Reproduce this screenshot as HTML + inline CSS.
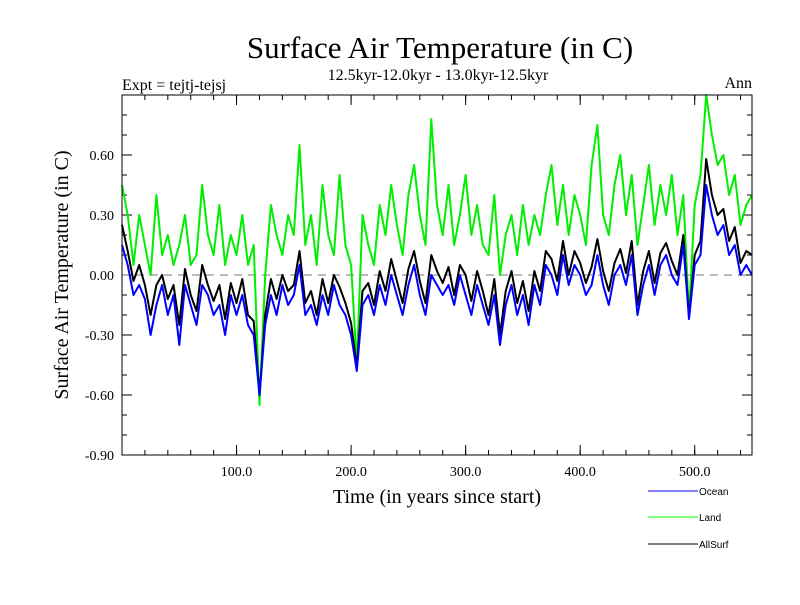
<!DOCTYPE html>
<html><head><meta charset="utf-8"><style>
body{margin:0;background:#fff}
svg text{font-family:"Liberation Serif",serif}
</style></head><body>
<svg id="chart" width="800" height="600" xmlns="http://www.w3.org/2000/svg">
<text x="440" y="58" font-size="31" text-anchor="middle">Surface Air Temperature (in C)</text>
<text x="438" y="80" font-size="16" text-anchor="middle">12.5kyr-12.0kyr - 13.0kyr-12.5kyr</text>
<text x="122" y="90" font-size="16">Expt = tejtj-tejsj</text>
<text x="752" y="88" font-size="16" text-anchor="end">Ann</text>
<text transform="translate(68,275) rotate(-90)" font-size="20" text-anchor="middle">Surface Air Temperature (in C)</text>
<text x="437" y="503" font-size="20" text-anchor="middle">Time (in years since start)</text>
<g id="axes"></g>
<g id="series"></g>
<rect x="122" y="95" width="630" height="360" fill="none" stroke="#000" stroke-width="1"/>
<g font-family="Liberation Sans, sans-serif" font-size="10">
<line x1="648" y1="491" x2="698" y2="491" stroke="#0000ff"/>
<text x="699" y="495" style="font-family:'Liberation Sans',sans-serif">Ocean</text>
<line x1="648" y1="517" x2="698" y2="517" stroke="#00ff00"/>
<text x="699" y="521" style="font-family:'Liberation Sans',sans-serif">Land</text>
<line x1="648" y1="544" x2="698" y2="544" stroke="#000"/>
<text x="699" y="548" style="font-family:'Liberation Sans',sans-serif">AllSurf</text>
</g>
</svg>
<script>
const years = [];
for (let i = 0; i <= 110; i++) years.push(i * 5);
const ocean = [0.15,0.05,-0.1,-0.05,-0.12,-0.3,-0.15,-0.05,-0.2,-0.1,
-0.35,-0.05,-0.15,-0.25,-0.05,-0.1,-0.2,-0.15,-0.3,-0.1,
-0.2,-0.1,-0.25,-0.3,-0.6,-0.25,-0.1,-0.2,-0.05,-0.15,
-0.1,0.05,-0.2,-0.15,-0.25,-0.1,-0.2,-0.05,-0.15,-0.2,
-0.3,-0.48,-0.15,-0.1,-0.2,-0.05,-0.15,0.0,-0.1,-0.2,
-0.05,0.05,-0.1,-0.2,0.0,-0.05,-0.1,-0.05,-0.15,0.0,
-0.1,-0.2,-0.05,-0.15,-0.25,-0.1,-0.35,-0.15,-0.05,-0.2,
-0.1,-0.25,-0.05,-0.15,0.05,0.0,-0.1,0.1,-0.05,0.05,
0.0,-0.1,-0.05,0.1,-0.05,-0.15,0.0,0.05,-0.05,0.1,
-0.2,-0.05,0.05,-0.1,0.05,0.1,0.0,-0.05,0.15,-0.22,
0.05,0.1,0.45,0.3,0.2,0.25,0.1,0.15,0.0,0.05,0.0];
const land = [0.45,0.3,0.05,0.3,0.15,0.0,0.4,0.1,0.2,0.05,
0.15,0.3,0.05,0.1,0.45,0.2,0.1,0.35,0.05,0.2,
0.1,0.3,0.05,0.15,-0.65,0.0,0.35,0.2,0.1,0.3,
0.2,0.65,0.15,0.3,0.05,0.45,0.2,0.1,0.5,0.15,
0.05,-0.45,0.3,0.15,0.05,0.35,0.2,0.45,0.25,0.1,
0.4,0.55,0.3,0.15,0.78,0.35,0.2,0.45,0.15,0.3,
0.5,0.2,0.35,0.15,0.1,0.4,0.0,0.2,0.3,0.1,
0.35,0.15,0.3,0.2,0.4,0.55,0.25,0.45,0.2,0.4,
0.3,0.15,0.55,0.75,0.3,0.2,0.45,0.6,0.3,0.5,
0.15,0.35,0.55,0.25,0.45,0.3,0.5,0.2,0.4,-0.2,
0.35,0.5,0.9,0.7,0.55,0.6,0.4,0.5,0.25,0.35,0.4];
const allSurf = [0.25,0.12,-0.03,0.05,-0.05,-0.2,-0.05,0.0,-0.12,-0.05,
-0.25,0.03,-0.1,-0.18,0.05,-0.05,-0.13,-0.05,-0.22,-0.04,
-0.14,-0.02,-0.2,-0.23,-0.6,-0.2,-0.02,-0.12,0.0,-0.08,
-0.05,0.12,-0.14,-0.08,-0.2,-0.02,-0.14,0.0,-0.06,-0.14,
-0.24,-0.46,-0.08,-0.04,-0.15,0.02,-0.08,0.08,-0.03,-0.14,
0.03,0.12,-0.03,-0.14,0.1,0.02,-0.04,0.04,-0.1,0.05,
0.0,-0.13,0.02,-0.08,-0.2,-0.02,-0.3,-0.08,0.02,-0.14,
-0.03,-0.18,0.02,-0.08,0.12,0.08,-0.03,0.17,0.0,0.12,
0.06,-0.04,0.04,0.18,0.02,-0.08,0.06,0.13,0.01,0.17,
-0.15,0.02,0.12,-0.04,0.11,0.16,0.07,0.0,0.2,-0.21,
0.1,0.17,0.58,0.4,0.3,0.33,0.17,0.24,0.06,0.12,0.1];
const yTicks = [0.6,0.3,0.0,-0.3,-0.6,-0.9];
const yTickLabels = ["0.60","0.30","0.00","-0.30","-0.60","-0.90"];
const xTicks = [100,200,300,400,500];
const xTickLabels = ["100.0","200.0","300.0","400.0","500.0"];

const X0=122, X1=752, Y0=95, Y1=455, XMIN=0, XMAX=550, YMIN=-0.9, YMAX=0.9;
function sx(v){return X0+(v-XMIN)/(XMAX-XMIN)*(X1-X0);}
function sy(v){return Y1-(v-YMIN)/(YMAX-YMIN)*(Y1-Y0);}
const NS='http://www.w3.org/2000/svg';
const axes=document.getElementById('axes');
const series=document.getElementById('series');
function mk(tag,attrs,parent){const e=document.createElementNS(NS,tag);for(const k in attrs)e.setAttribute(k,attrs[k]);parent.appendChild(e);return e;}

// minor y ticks
for(let v=-0.9;v<=0.9001;v+=0.1){
  const y=sy(v);
  const t1=mk('line',{x1:X0,y1:y,x2:X0+5,y2:y,stroke:'#000'},axes);
  
  
  const t2=mk('line',{x1:X1,y1:y,x2:X1-5,y2:y,stroke:'#000'},axes);
  
  
}
yTicks.forEach((v,i)=>{
  const y=sy(v);
  const t=mk('line',{x1:X0,y1:y,x2:X0+10,y2:y,stroke:'#000'},axes);
  
  
  const t2=mk('line',{x1:X1,y1:y,x2:X1-10,y2:y,stroke:'#000'},axes);
  
  
  const l=mk('text',{x:X0-8,y:y+5,'font-size':14,'text-anchor':'end'},axes);
  l.textContent=yTickLabels[i];
  
  
});
for(let v=20;v<XMAX;v+=20){
  const x=sx(v);
  const t=mk('line',{x1:x,y1:Y1,x2:x,y2:Y1-5,stroke:'#000'},axes);
  
  
  const t2=mk('line',{x1:x,y1:Y0,x2:x,y2:Y0+5,stroke:'#000'},axes);
  
  
}
xTicks.forEach((v,i)=>{
  const x=sx(v);
  const t=mk('line',{x1:x,y1:Y1,x2:x,y2:Y1-10,stroke:'#000'},axes);
  
  
  const t2=mk('line',{x1:x,y1:Y0,x2:x,y2:Y0+10,stroke:'#000'},axes);
  
  
  const l=mk('text',{x:x,y:Y1+21,'font-size':14,'text-anchor':'middle'},axes);
  l.textContent=xTickLabels[i];
  
  
});
const z=mk('line',{x1:X0,y1:sy(0),x2:X1,y2:sy(0),stroke:'#777','stroke-dasharray':'8,6'},axes);



function draw(vals,color,name){
  const d=vals.map((v,i)=>(i?'L':'M')+sx(years[i]).toFixed(1)+','+sy(v).toFixed(1)).join('');
  const p=mk('path',{d:d,fill:'none',stroke:color,'stroke-width':2,'stroke-linejoin':'round'},series);
  
  
}
draw(land,'#00ee00','land-line');
draw(allSurf,'#000000','allsurf-line');
draw(ocean,'#0000ff','ocean-line');
</script>
</body></html>
